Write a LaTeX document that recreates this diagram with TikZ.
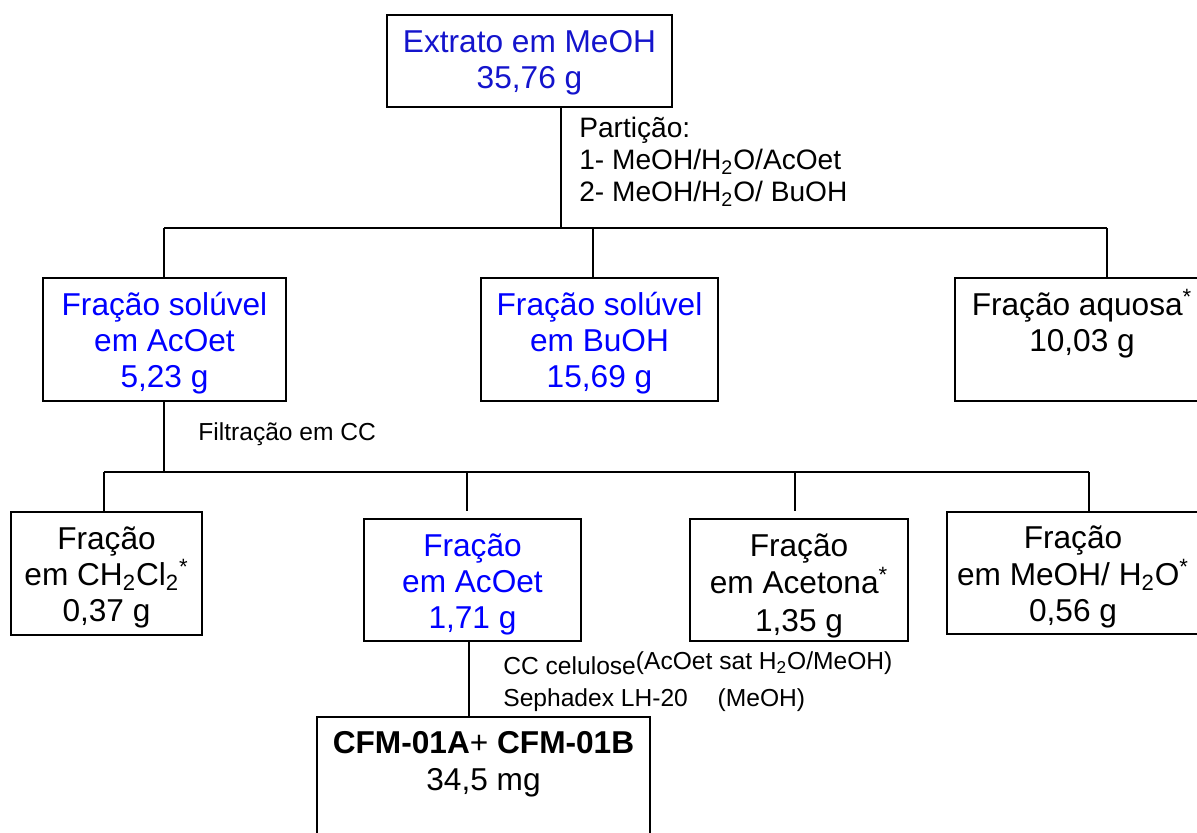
\documentclass[tikz,border=0pt]{standalone}
\usepackage{fontspec}
\setmainfont{Liberation Sans}
\usepackage{xcolor}
\definecolor{extBlue}{HTML}{1414CC}
\definecolor{fracBlue}{HTML}{0000FF}
\usetikzlibrary{positioning, calc}

\begin{document}
\begin{tikzpicture}[x=0.02cm, y=-0.02cm,
  fracbox/.style={draw, line width=1.1pt, inner sep=0pt, align=center,
    font=\fontsize{18}{20.7}\selectfont},
  twolines/.style={text height=41.7pt},
  threelines/.style={text height=62.4pt},
  note/.style={inner sep=0pt, align=left, anchor=west},
  link/.style={line width=0.8pt}]

  \clip (0,0) rectangle (1197,832);

  % extract and first partition
  \node[fracbox, twolines, minimum width=285*0.02cm, text depth=10.5pt, text=extBlue] (extrato) at (529.5,61)
    {Extrato em MeOH\\35,76 g};

  \node[fracbox, threelines, minimum width=243*0.02cm, text depth=7.3pt, text=fracBlue] (solAc) at (164.5,339.5)
    {Fração solúvel\\em AcOet\\5,23 g};
  \node[fracbox, threelines, minimum width=237*0.02cm, text depth=7.3pt, text=fracBlue] (solBu) at (599.5,339.5)
    {Fração solúvel\\em BuOH\\15,69 g};
  \node[fracbox, twolines, minimum width=254*0.02cm, text depth=28pt] (aquosa) at (1082,339.5)
    {Fração aquosa\textsuperscript{*}\\10,03 g};

  % fractions from the column
  \node[fracbox, threelines, minimum width=191*0.02cm, text depth=7.3pt] (fCl) at (106.5,573.5)
    {Fração\\em CH\textsubscript{2}Cl\textsubscript{2}\textsuperscript{*}\\0,37 g};
  \node[fracbox, threelines, minimum width=217*0.02cm, text depth=6.8pt, text=fracBlue] (fAc) at (472.5,580)
    {Fração\\em AcOet\\1,71 g};
  \node[fracbox, minimum width=218*0.02cm, text height=64pt, text depth=5.2pt,
    font=\fontsize{18}{21.5}\selectfont] (fAcet) at (799,580)
    {Fração\\em Acetona\textsuperscript{*}\\1,35 g};
  \node[fracbox, threelines, minimum width=252*0.02cm, text depth=7.3pt] (fMe) at (1073,573)
    {Fração\\em MeOH/ H\textsubscript{2}O\textsuperscript{*}\\0,56 g};

  \node[fracbox, twolines, anchor=north, minimum width=333*0.02cm, text depth=60pt] (cfm) at (483.5,716)
    {\textbf{CFM-01A}+ \textbf{CFM-01B}\\34,5 mg};

  % procedure labels
  \node[note, font=\fontsize{16}{18.2}\selectfont] (particao) at (579,162)
    {Partição:\\1- MeOH/H\textsubscript{2}O/AcOet\\2- MeOH/H\textsubscript{2}O/ BuOH};
  \node[note, font=\fontsize{14}{16}\selectfont] (filtr) at (198,434) {Filtração em CC};
  \node[note, font=\fontsize{14}{18}\selectfont] (croma) at (503,684)
    {CC celulose\raisebox{3pt}[0pt][0pt]{(AcOet sat H\textsubscript{2}O/MeOH)}\\
     \makebox[122pt][l]{Sephadex LH-20}(MeOH)};

  % junctions
  \coordinate (part) at (561,228);
  \coordinate (hA) at (164,228);
  \coordinate (hB) at (593,228);
  \coordinate (hC) at (1107,228);
  \coordinate (col) at (164,472);
  \coordinate (dA) at (104,472);
  \coordinate (dB) at (467,472);
  \coordinate (dC) at (795,472);
  \coordinate (dD) at (1089,472);
  \coordinate (sep) at (469,700);

  \draw[link] (part |- extrato.south) -- (part);
  \draw[link] (hA) -- (hC);
  \draw[link] (hA) -- (hA |- solAc.north);
  \draw[link] (hB) -- (hB |- solBu.north);
  \draw[link] (hC) -- (hC |- aquosa.north);

  \draw[link] (col |- solAc.south) -- (col);
  \draw[link] (dA) -- (dD);
  \draw[link] (dA) -- (dA |- fCl.north);
  \draw[link, shorten >=4pt] (dB) -- (dB |- fAc.north);
  \draw[link, shorten >=4pt] (dC) -- (dC |- fAcet.north);
  \draw[link] (dD) -- (dD |- fMe.north);

  \draw[link] (sep |- fAc.south) -- (sep |- cfm.north);
\end{tikzpicture}
\end{document}
